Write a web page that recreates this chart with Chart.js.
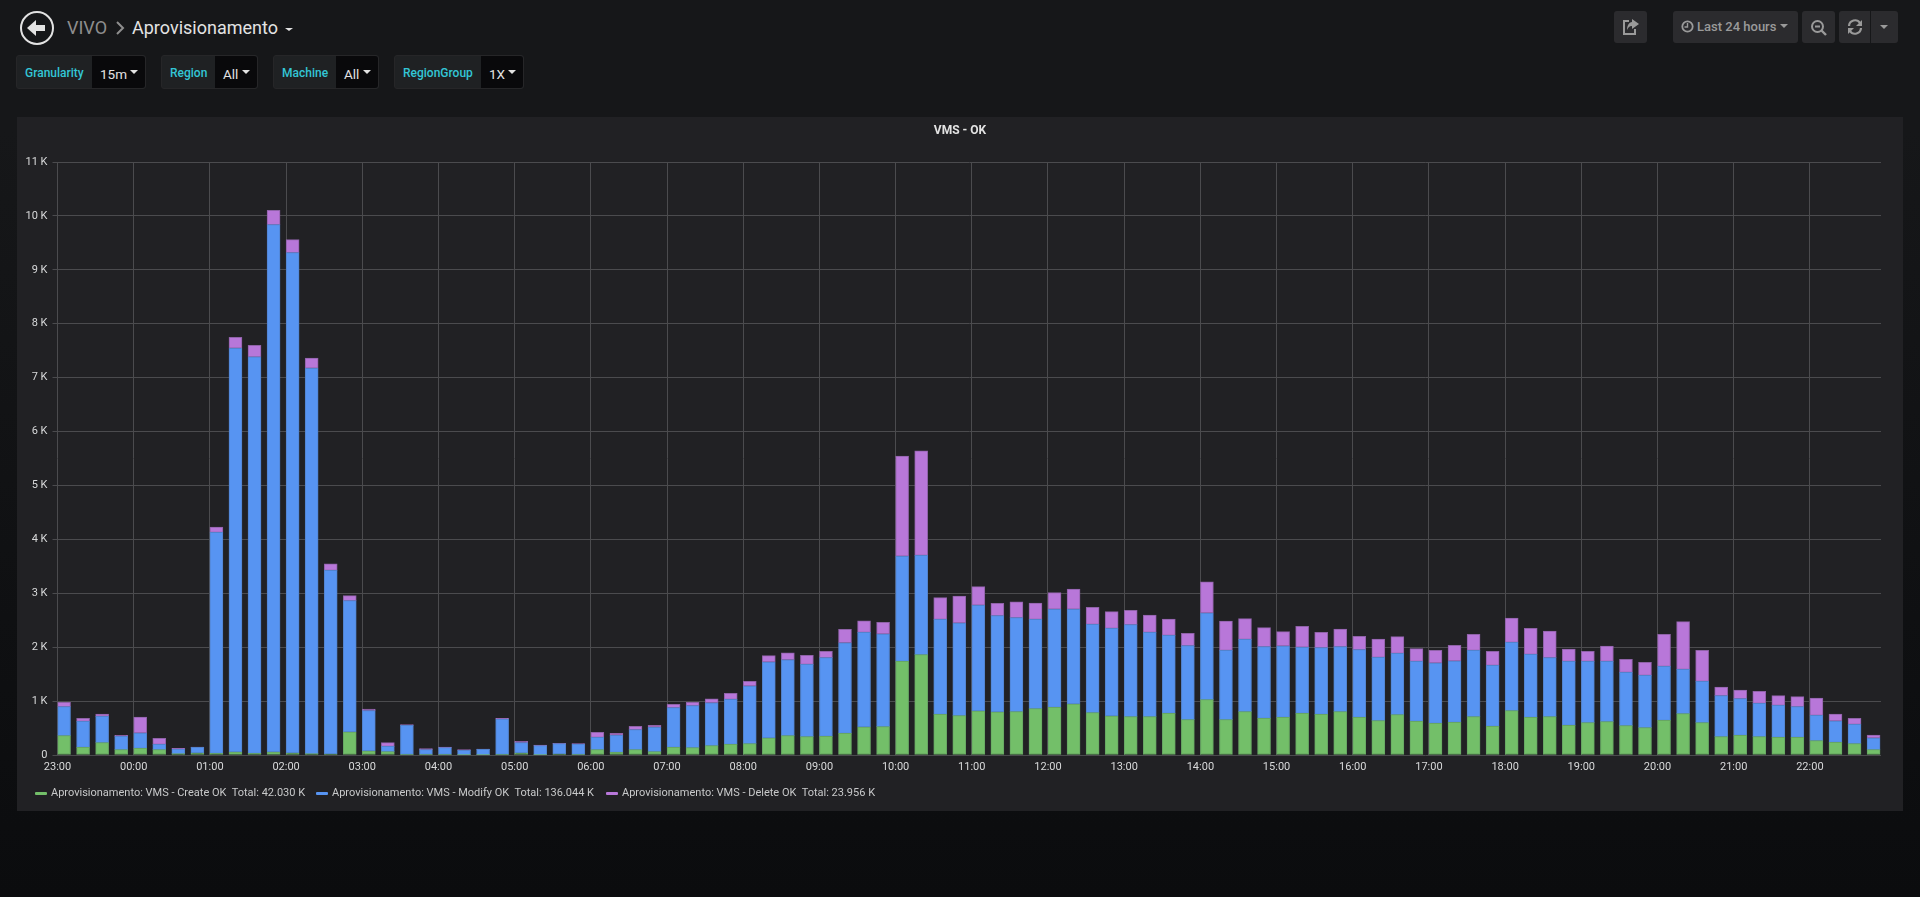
<!DOCTYPE html>
<html>
<head>
<meta charset="utf-8">
<title>VIVO - Aprovisionamento</title>
<script src="https://cdn.jsdelivr.net/npm/chart.js@4/dist/chart.umd.min.js"></script>
<style>
  html, body { margin: 0; height: 100%; overflow: hidden; }
  body {
    width: 1920px; height: 897px; position: relative;
    background: linear-gradient(#161719, #161719 130px, #0b0c0e 897px);
    font-family: Roboto, sans-serif; color: #d8d9da;
  }
  .abs { position: absolute; white-space: nowrap; }
  .crumb { top: 14px; font-size: 18px; line-height: 28px; }
  .filter {
    position: absolute; top: 55px; height: 34px; background: #1f2123; border-radius: 3px;
    border: 1px solid #262628; box-sizing: border-box;
  }
  .filter .lbl {
    position: absolute; top: 0; line-height: 34px; font-size: 12px; font-weight: 500; color: #33c6d6;
  }
  .filter .val {
    position: absolute; top: 0; bottom: 0; right: 0; background: #09090b; border-radius: 0 3px 3px 0;
    color: #e3e3e3; font-size: 13.5px; line-height: 36px; box-sizing: border-box;
  }
  .caret {
    position: absolute; width: 0; height: 0;
    border-left: 4px solid transparent; border-right: 4px solid transparent; border-top: 4px solid #e3e3e3;
  }
  .btn { position: absolute; top: 11px; height: 32px; background: #2b2b2e; border-radius: 3px; }
  .btn svg { position: absolute; }
  #panel { position: absolute; left: 17px; top: 117px; width: 1886px; height: 694px; background: #212124; }
  #panelTitle {
    position: absolute; left: 0; right: 0; top: 6px; text-align: center;
    font-size: 12px; font-weight: 700; color: #e3e3e3; line-height: 14px;
  }
  #chartBox { position: absolute; left: 0; top: 0; width: 1886px; height: 694px; }
  #legend { position: absolute; left: 0; top: 668px; height: 16px; font-size: 11px; color: #c8c9ca; }
  #legend .sw { position: absolute; top: 7px; width: 12px; height: 3px; border-radius: 1px; }
  #legend .tx { position: absolute; top: 0; line-height: 16px; white-space: pre; }
</style>
</head>
<body>

<!-- header -->
<svg class="abs" style="left:19px;top:10px" width="36" height="36" viewBox="0 0 36 36">
  <circle cx="18" cy="18" r="16" fill="none" stroke="#e3e3e3" stroke-width="2"/>
  <path d="M8 18 L17 10 L17 15 L26 15 L26 21 L17 21 L17 26 Z" fill="#e3e3e3"/>
</svg>
<div class="abs crumb" style="left:67px;color:#8e8e8e">VIVO</div>
<svg class="abs" style="left:115px;top:21px" width="10" height="14" viewBox="0 0 10 14">
  <path d="M2 1 L8 7 L2 13" fill="none" stroke="#8e8e8e" stroke-width="2"/>
</svg>
<div class="abs crumb" style="left:132px;color:#e3e3e3">Aprovisionamento</div>
<div class="caret" style="left:285px;top:28px;border-width:3px 3px 0 3px;border-left-width:4px;border-right-width:4px"></div>

<!-- template variables -->
<div class="filter" style="left:16px;width:130px"><span class="lbl" style="left:8px">Granularity</span>
  <div class="val" style="width:53px;padding-left:8px">15m<div class="caret" style="left:38px;top:14px"></div></div></div>
<div class="filter" style="left:161px;width:97px"><span class="lbl" style="left:8px">Region</span>
  <div class="val" style="width:42px;padding-left:8px">All<div class="caret" style="left:27px;top:14px"></div></div></div>
<div class="filter" style="left:273px;width:106px"><span class="lbl" style="left:8px">Machine</span>
  <div class="val" style="width:42px;padding-left:8px">All<div class="caret" style="left:27px;top:14px"></div></div></div>
<div class="filter" style="left:394px;width:130px"><span class="lbl" style="left:8px">RegionGroup</span>
  <div class="val" style="width:42px;padding-left:8px">1X<div class="caret" style="left:27px;top:14px"></div></div></div>

<!-- right side buttons -->
<div class="btn" style="left:1614px;width:33px">
  <svg style="left:8px;top:7px" width="18" height="18" viewBox="0 0 18 18">
    <path d="M7 3 H2 V16 H13 V11" fill="none" stroke="#9a9a9a" stroke-width="2"/>
    <path d="M10 1 L17 6 L10 11 V8 C7 8 6 10 5 12 C5 8 7 4 10 4 Z" fill="#9a9a9a"/>
  </svg>
</div>
<div class="btn" style="left:1673px;width:125px">
  <svg style="left:8px;top:9px" width="13" height="13" viewBox="0 0 13 13">
    <circle cx="6.5" cy="6.5" r="5.2" fill="none" stroke="#9a9a9a" stroke-width="1.8"/>
    <path d="M6.5 3 V7 H3.5" fill="none" stroke="#9a9a9a" stroke-width="1.4"/>
  </svg>
  <span class="abs" style="left:24px;top:8px;font-size:13px;font-weight:500;line-height:16px;color:#9a9a9a">Last 24 hours</span>
  <div class="caret" style="left:107px;top:13px;border-top-color:#9a9a9a"></div>
</div>
<div class="btn" style="left:1802px;width:33px">
  <svg style="left:8px;top:8px" width="18" height="18" viewBox="0 0 18 18">
    <circle cx="7.5" cy="7.5" r="5.5" fill="none" stroke="#9a9a9a" stroke-width="2"/>
    <path d="M5 7.5 H10" stroke="#9a9a9a" stroke-width="2"/>
    <path d="M11.5 11.5 L16 16" stroke="#9a9a9a" stroke-width="2.4"/>
  </svg>
</div>
<div class="btn" style="left:1839px;width:31px;border-radius:3px 0 0 3px">
  <svg style="left:8px;top:8px" width="16" height="16" viewBox="0 0 16 16">
    <path d="M2 7 A6 6 0 0 1 13 4" fill="none" stroke="#9a9a9a" stroke-width="2.2"/>
    <path d="M15 1 V7 H9 Z" fill="#9a9a9a"/>
    <path d="M14 9 A6 6 0 0 1 3 12" fill="none" stroke="#9a9a9a" stroke-width="2.2"/>
    <path d="M1 15 V9 H7 Z" fill="#9a9a9a"/>
  </svg>
</div>
<div class="btn" style="left:1871px;width:27px;border-radius:0 3px 3px 0">
  <div class="caret" style="left:9px;top:14px;border-top-color:#9a9a9a"></div>
</div>

<div id="panel">
  <div id="chartBox"><canvas id="vmsChart"></canvas></div>
  <div id="panelTitle">VMS - OK</div>
  <div id="legend"></div>
</div>

<script>
// 15 minute buckets
const slots = [
  "23:00","23:15","23:30","23:45","00:00","00:15","00:30","00:45","01:00","01:15","01:30","01:45",
  "02:00","02:15","02:30","02:45","03:00","03:15","03:30","03:45","04:00","04:15","04:30","04:45",
  "05:00","05:15","05:30","05:45","06:00","06:15","06:30","06:45","07:00","07:15","07:30","07:45",
  "08:00","08:15","08:30","08:45","09:00","09:15","09:30","09:45","10:00","10:15","10:30","10:45",
  "11:00","11:15","11:30","11:45","12:00","12:15","12:30","12:45","13:00","13:15","13:30","13:45",
  "14:00","14:15","14:30","14:45","15:00","15:15","15:30","15:45","16:00","16:15","16:30","16:45",
  "17:00","17:15","17:30","17:45","18:00","18:15","18:30","18:45","19:00","19:15","19:30","19:45",
  "20:00","20:15","20:30","20:45","21:00","21:15","21:30","21:45","22:00","22:15","22:30","22:45"
];
const hourLabels = [
  "23:00","00:00","01:00","02:00","03:00","04:00","05:00","06:00","07:00","08:00","09:00","10:00",
  "11:00","12:00","13:00","14:00","15:00","16:00","17:00","18:00","19:00","20:00","21:00","22:00"
];
const createOk = [
  359,142,229,99,124,99,25,37,31,56,31,56,37,25,19,427,74,62,12,12,12,6,5,12,
  37,6,19,12,99,49,99,62,142,136,173,198,210,315,359,340,346,402,519,525,1738,1861,754,730,
  816,798,804,860,884,946,785,724,711,711,773,656,1027,656,804,680,699,773,754,804,699,637,748,625,
  587,606,711,532,822,699,711,550,600,618,544,507,643,767,600,340,365,340,328,328,266,235,210,99
];
const modifyOk = [
  538,483,488,247,284,99,86,105,4100,7489,7353,9783,9283,7149,3407,2436,748,99,538,87,124,80,100,655,
  192,167,191,192,229,316,371,451,736,779,797,834,1070,1410,1408,1341,1459,1681,1756,1719,1948,1843,1763,1719,
  1961,1787,1744,1657,1819,1757,1639,1626,1707,1565,1447,1372,1607,1286,1342,1330,1323,1225,1237,1206,1255,1175,1138,1113,
  1120,1138,1231,1132,1268,1169,1095,1188,1138,1120,990,971,1002,822,767,761,680,619,593,569,470,396,359,216
];
const deleteOk = [
  80,55,43,19,297,111,13,6,99,204,216,266,241,191,118,93,31,68,13,18,12,13,6,13,
  24,12,6,6,92,37,61,37,61,62,74,111,86,117,130,167,117,247,216,216,1861,1936,402,501,
  346,229,291,303,309,377,316,309,266,321,303,229,576,544,383,352,266,389,285,328,248,340,309,235,
  235,291,297,259,452,482,494,229,185,284,241,241,594,885,575,161,161,222,180,185,322,130,111,56
];
const seriesNames = [
  "Aprovisionamento: VMS - Create OK",
  "Aprovisionamento: VMS - Modify OK",
  "Aprovisionamento: VMS - Delete OK"
];
const seriesTotals = ["Total: 42.030 K", "Total: 136.044 K", "Total: 23.956 K"];
const seriesColors = ["#73bf69", "#5794f2", "#b877d9"];
const seriesBorders = ["#67a663", "#5283ce", "#8f62a8"];

// minutes since the first bucket
function minutesOf(label) {
  const [h, m] = label.split(":").map(Number);
  return (((h - 23 + 24) % 24) * 60) + m;
}

// flot style bars: the bar starts on its time, it is not centered on it
const barCenterShift = 5.15;
function toPoints(values) {
  return values.map((v, i) => ({ x: minutesOf(slots[i]) + barCenterShift, y: v }));
}

const seriesValues = [createOk, modifyOk, deleteOk];

new Chart(document.getElementById("vmsChart"), {
  type: "bar",
  data: {
    datasets: seriesNames.map((name, i) => ({
      label: name,
      data: toPoints(seriesValues[i]),
      backgroundColor: seriesColors[i],
      borderColor: seriesBorders[i],
      borderWidth: 1,
      borderSkipped: false,
      barThickness: 13
    }))
  },
  options: {
    responsive: true,
    maintainAspectRatio: false,
    animation: false,
    layout: { padding: { top: 45, right: 22, bottom: 26, left: 0 } },
    plugins: { legend: { display: false }, tooltip: { enabled: false } },
    scales: {
      x: {
        type: "linear",
        stacked: true,
        offset: false,
        min: 0,
        max: 1436,
        afterFit: (scale) => { scale.height = 30; },
        border: { display: false },
        // bar charts default to offset grid lines, here they sit on the hours
        grid: { color: "#4b4b4e", lineWidth: 1, drawTicks: false, offset: false },
        ticks: {
          stepSize: 60,
          autoSkip: false,
          maxRotation: 0,
          includeBounds: false,
          padding: 6,
          color: "#d8d9da",
          font: { family: "Roboto", size: 11 },
          callback: (v) => hourLabels[v / 60]
        }
      },
      y: {
        stacked: true,
        min: 0,
        max: 11000,
        afterFit: (scale) => { scale.width = 40.5; },
        border: { display: false },
        grid: { color: "#4b4b4e", lineWidth: 1, tickLength: 5 },
        ticks: {
          stepSize: 1000,
          padding: 5,
          color: "#d8d9da",
          font: { family: "Roboto", size: 11 },
          callback: (v) => (v === 0 ? "0" : v / 1000 + " K")
        }
      }
    }
  }
});

// legend is plain html in grafana too
const legendBox = document.getElementById("legend");
const swatchLeft = [18, 299, 589];
seriesNames.forEach((name, i) => {
  const sw = document.createElement("div");
  sw.className = "sw";
  sw.style.left = swatchLeft[i] + "px";
  sw.style.background = seriesColors[i];
  legendBox.appendChild(sw);
  const tx = document.createElement("div");
  tx.className = "tx";
  tx.style.left = swatchLeft[i] + 16 + "px";
  tx.textContent = name + "  " + seriesTotals[i];
  legendBox.appendChild(tx);
});
</script>
</body>
</html>
